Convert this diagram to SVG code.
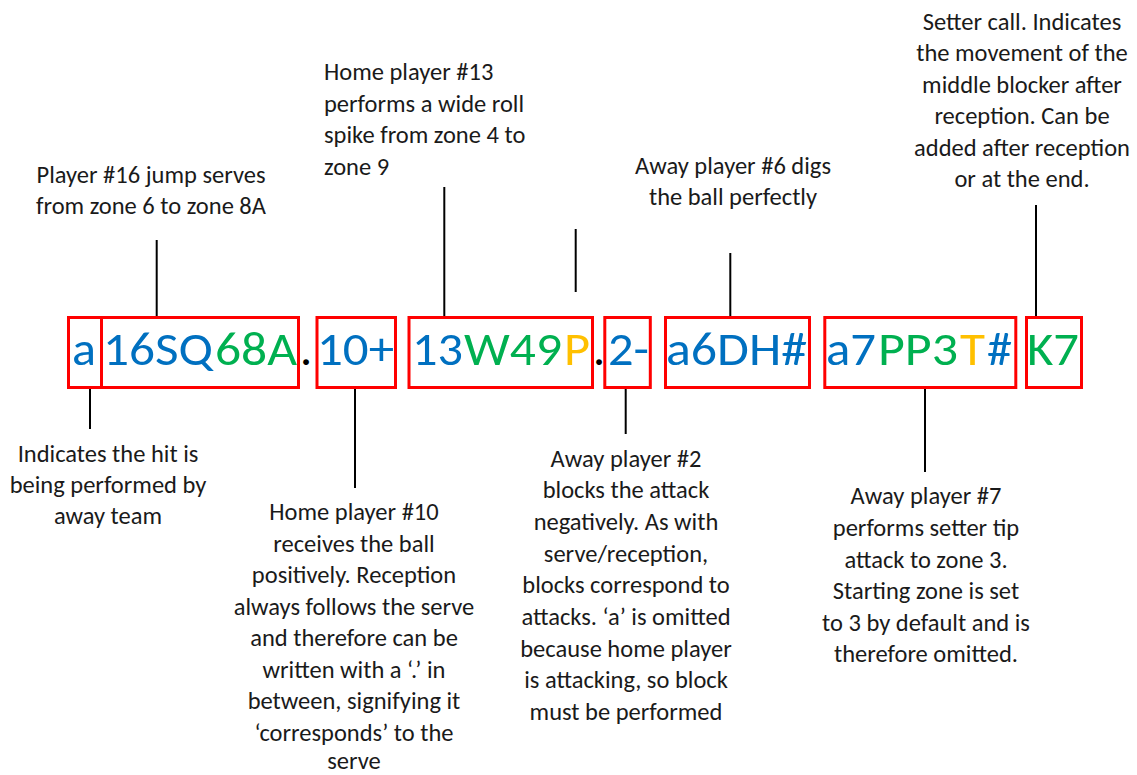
<svg xmlns="http://www.w3.org/2000/svg" width="1137" height="775" viewBox="0 0 1137 775">
<style>
.note{font-family:Carlito,Calibri,Lato,"Open Sans",sans-serif;font-size:24.5px;fill:#1a1a1a;}
.c{text-anchor:middle;}
.code{font-family:Carlito,Calibri,Lato,"Open Sans",sans-serif;font-size:48px;}
.b{fill:#0070C0;}
.g{fill:#00B050;}
.o{fill:#FFC000;}
.k{fill:#000000;}
.box{fill:none;stroke:#FF0000;stroke-width:3;}
.ln{stroke:#000000;stroke-width:2;fill:none;}
</style>
<rect width="1137" height="775" fill="#ffffff"/>

<g id="connectors">
<line class="ln" x1="156.7" y1="240" x2="156.7" y2="316"/>
<line class="ln" x1="444.3" y1="187" x2="444.3" y2="316"/>
<line class="ln" x1="575.7" y1="229" x2="575.7" y2="292"/>
<line class="ln" x1="730.3" y1="253" x2="730.3" y2="316"/>
<line class="ln" x1="1036" y1="205" x2="1036" y2="316"/>
<line class="ln" x1="90" y1="389" x2="90" y2="429"/>
<line class="ln" x1="355" y1="389" x2="355" y2="488"/>
<line class="ln" x1="625.7" y1="389" x2="625.7" y2="434"/>
<line class="ln" x1="925" y1="389" x2="925" y2="472"/>
</g>

<g id="tok-a">
<rect class="box" x="68.5" y="317.5" width="33" height="70"/>
<text class="code b" x="72" y="365" textLength="24" lengthAdjust="spacingAndGlyphs">a</text>
</g>
<g id="tok-serve">
<rect class="box" x="101.5" y="317.5" width="197" height="70"/>
<text class="code b" x="103" y="365" textLength="110" lengthAdjust="spacingAndGlyphs">16SQ</text>
<text class="code g" x="215" y="365" textLength="82" lengthAdjust="spacingAndGlyphs">68A</text>
</g>
<g id="dot-1"><text class="code k" x="300" y="365">.</text></g>
<g id="tok-reception">
<rect class="box" x="317" y="317.5" width="78.5" height="70"/>
<text class="code b" x="317" y="365" textLength="77" lengthAdjust="spacingAndGlyphs">10+</text>
</g>
<g id="tok-attack">
<rect class="box" x="409" y="317.5" width="183.5" height="70"/>
<text class="code b" x="412" y="365" textLength="51" lengthAdjust="spacingAndGlyphs">13</text>
<text class="code g" x="464" y="365" textLength="98" lengthAdjust="spacingAndGlyphs">W49</text>
<text class="code o" x="564" y="365" textLength="26" lengthAdjust="spacingAndGlyphs">P</text>
</g>
<g id="dot-2"><text class="code k" x="593" y="365">.</text></g>
<g id="tok-block">
<rect class="box" x="604.8" y="317.5" width="45.5" height="70"/>
<text class="code b" x="608" y="365" textLength="41" lengthAdjust="spacingAndGlyphs">2-</text>
</g>
<g id="tok-dig">
<rect class="box" x="665.5" y="317.5" width="144" height="70"/>
<text class="code b" x="666" y="365" textLength="141" lengthAdjust="spacingAndGlyphs">a6DH#</text>
</g>
<g id="tok-tip">
<rect class="box" x="824.8" y="317.5" width="191" height="70"/>
<text class="code b" x="826" y="365" textLength="50" lengthAdjust="spacingAndGlyphs">a7</text>
<text class="code g" x="878" y="365" textLength="80" lengthAdjust="spacingAndGlyphs">PP3</text>
<text class="code o" x="960" y="365" textLength="25" lengthAdjust="spacingAndGlyphs">T</text>
<text class="code b" x="987" y="365" textLength="25" lengthAdjust="spacingAndGlyphs">#</text>
</g>
<g id="tok-call">
<rect class="box" x="1026.5" y="317.5" width="55" height="70"/>
<text class="code g" x="1027" y="365" textLength="52" lengthAdjust="spacingAndGlyphs">K7</text>
</g>

<g id="note-serve">
<text class="note c" x="151" y="183">Player #16 jump serves</text>
<text class="note c" x="151" y="214">from zone 6 to zone 8A</text>
</g>
<g id="note-attack">
<text class="note" x="324" y="80">Home player #13</text>
<text class="note" x="324" y="111.5">performs a wide roll</text>
<text class="note" x="324" y="143">spike from zone 4 to</text>
<text class="note" x="324" y="174.5">zone 9</text>
</g>
<g id="note-dig">
<text class="note c" x="733" y="173.5">Away player #6 digs</text>
<text class="note c" x="733" y="204.5">the ball perfectly</text>
</g>
<g id="note-call">
<text class="note c" x="1022" y="29.5">Setter call. Indicates</text>
<text class="note c" x="1022" y="61">the movement of the</text>
<text class="note c" x="1022" y="92.5">middle blocker after</text>
<text class="note c" x="1022" y="124">reception. Can be</text>
<text class="note c" x="1022" y="155.5">added after reception</text>
<text class="note c" x="1022" y="187">or at the end.</text>
</g>
<g id="note-away">
<text class="note c" x="108" y="462.3">Indicates the hit is</text>
<text class="note c" x="108" y="493">being performed by</text>
<text class="note c" x="108" y="523.5">away team</text>
</g>
<g id="note-reception">
<text class="note c" x="354" y="520">Home player #10</text>
<text class="note c" x="354" y="551.5">receives the ball</text>
<text class="note c" x="354" y="583">positively. Reception</text>
<text class="note c" x="354" y="614.5">always follows the serve</text>
<text class="note c" x="354" y="646">and therefore can be</text>
<text class="note c" x="354" y="677.5">written with a ‘.’ in</text>
<text class="note c" x="354" y="709">between, signifying it</text>
<text class="note c" x="354" y="740.5">‘corresponds’ to the</text>
<text class="note c" x="354" y="769">serve</text>
</g>
<g id="note-block">
<text class="note c" x="626" y="466.7">Away player #2</text>
<text class="note c" x="626" y="498.3">blocks the attack</text>
<text class="note c" x="626" y="530">negatively. As with</text>
<text class="note c" x="626" y="561.7">serve/reception,</text>
<text class="note c" x="626" y="593.3">blocks correspond to</text>
<text class="note c" x="626" y="625">attacks. ‘a’ is omitted</text>
<text class="note c" x="626" y="656.7">because home player</text>
<text class="note c" x="626" y="688.3">is attacking, so block</text>
<text class="note c" x="626" y="720">must be performed</text>
</g>
<g id="note-tip">
<text class="note c" x="926" y="504.3">Away player #7</text>
<text class="note c" x="926" y="536">performs setter tip</text>
<text class="note c" x="926" y="567.5">attack to zone 3.</text>
<text class="note c" x="926" y="599">Starting zone is set</text>
<text class="note c" x="926" y="630.5">to 3 by default and is</text>
<text class="note c" x="926" y="662">therefore omitted.</text>
</g>
</svg>
